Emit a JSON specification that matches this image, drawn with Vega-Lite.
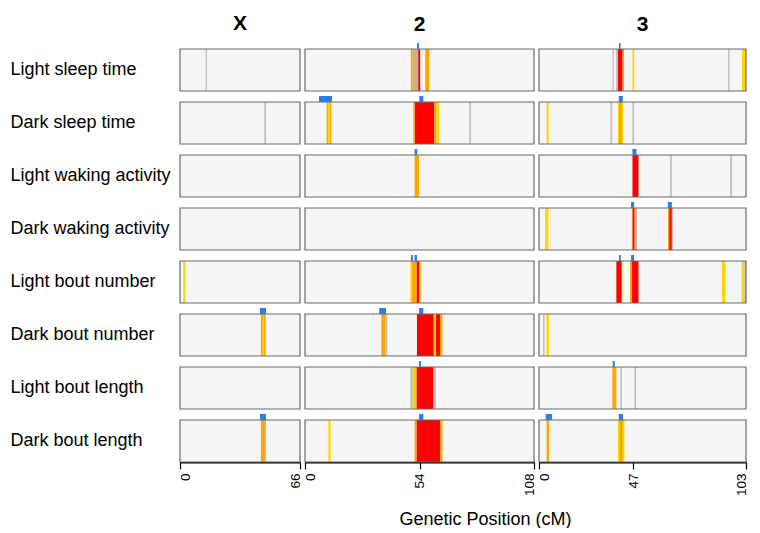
{
  "$schema": "https://vega.github.io/schema/vega-lite/v6.json",
  "padding": {"left": 10, "top": 13, "right": 0, "bottom": 0},
  "bounds": "flush",
  "spacing": 5,
  "config": {
    "view": {"stroke": null},
    "font": "Liberation Sans",
    "axisX": {"labelAngle": -90, "labelFontSize": 13.5, "labelColor": "black", "domainColor": "black", "domainWidth": 1.8, "tickColor": "black", "tickWidth": 1.2, "tickSize": 7, "ticks": true, "labelPadding": 4, "grid": false, "labelFlush": false, "labelOverlap": false, "titleFontSize": 18, "titleFontWeight": "normal", "titleColor": "black",
      "labelOffset": {"condition": [{"test": "datum.value == 0", "value": 5}, {"test": "datum.value == 66 || datum.value == 108 || datum.value == 103", "value": -5}], "value": 0}},
    "axisY": {"title": null, "ticks": false, "domain": false, "labelAlign": "left", "labelPadding": 170, "labelFontSize": 18, "labelColor": "black"},
    "title": {"fontSize": 21, "fontWeight": "bold", "anchor": "middle", "offset": 8, "color": "black"}
  },
  "datasets": {
    "traits": [
      {"t": "Light sleep time"}, {"t": "Dark sleep time"}, {"t": "Light waking activity"}, {"t": "Dark waking activity"},
      {"t": "Light bout number"}, {"t": "Dark bout number"}, {"t": "Light bout length"}, {"t": "Dark bout length"}
    ],
    "bands": [
      {"t": "Light sleep time", "c": "X", "s": 14.1, "e": 14.8, "k": "grey"},
      {"t": "Light sleep time", "c": "2", "s": 49.9, "e": 50.8, "k": "orange"},
      {"t": "Light sleep time", "c": "2", "s": 50.8, "e": 52.9, "k": "tan"},
      {"t": "Light sleep time", "c": "2", "s": 52.9, "e": 53.4, "k": "orange"},
      {"t": "Light sleep time", "c": "2", "s": 53.4, "e": 54.3, "k": "red"},
      {"t": "Light sleep time", "c": "2", "s": 56.7, "e": 58.6, "k": "orange"},
      {"t": "Light sleep time", "c": "3", "s": 36.6, "e": 37.2, "k": "grey"},
      {"t": "Light sleep time", "c": "3", "s": 38.4, "e": 39.3, "k": "grey"},
      {"t": "Light sleep time", "c": "3", "s": 39.3, "e": 41.6, "k": "red"},
      {"t": "Light sleep time", "c": "3", "s": 41.6, "e": 42.3, "k": "orange"},
      {"t": "Light sleep time", "c": "3", "s": 46.5, "e": 47.4, "k": "yellow"},
      {"t": "Light sleep time", "c": "3", "s": 94.1, "e": 94.8, "k": "grey"},
      {"t": "Light sleep time", "c": "3", "s": 101, "e": 103, "k": "yellow"},
      {"t": "Dark sleep time", "c": "X", "s": 46.4, "e": 47.3, "k": "grey"},
      {"t": "Dark sleep time", "c": "2", "s": 10.2, "e": 12.4, "k": "orange"},
      {"t": "Dark sleep time", "c": "2", "s": 10.8, "e": 11.8, "k": "yellow"},
      {"t": "Dark sleep time", "c": "2", "s": 51.1, "e": 51.8, "k": "orange"},
      {"t": "Dark sleep time", "c": "2", "s": 51.8, "e": 61.0, "k": "red"},
      {"t": "Dark sleep time", "c": "2", "s": 61.0, "e": 62.1, "k": "orange"},
      {"t": "Dark sleep time", "c": "2", "s": 62.1, "e": 63.2, "k": "yellow"},
      {"t": "Dark sleep time", "c": "2", "s": 77.5, "e": 78.3, "k": "grey"},
      {"t": "Dark sleep time", "c": "3", "s": 3.8, "e": 4.8, "k": "yellow"},
      {"t": "Dark sleep time", "c": "3", "s": 35.6, "e": 36.4, "k": "grey"},
      {"t": "Dark sleep time", "c": "3", "s": 39.3, "e": 41.8, "k": "yellow"},
      {"t": "Dark sleep time", "c": "3", "s": 39.8, "e": 41.2, "k": "orange"},
      {"t": "Dark sleep time", "c": "3", "s": 46.5, "e": 47.3, "k": "grey"},
      {"t": "Light waking activity", "c": "2", "s": 51.7, "e": 53.8, "k": "orange"},
      {"t": "Light waking activity", "c": "3", "s": 46.5, "e": 49.5, "k": "red"},
      {"t": "Light waking activity", "c": "3", "s": 65.3, "e": 66.1, "k": "grey"},
      {"t": "Light waking activity", "c": "3", "s": 95.1, "e": 96.0, "k": "grey"},
      {"t": "Dark waking activity", "c": "3", "s": 3.0, "e": 4.7, "k": "yellow"},
      {"t": "Dark waking activity", "c": "3", "s": 46.2, "e": 46.6, "k": "orange"},
      {"t": "Dark waking activity", "c": "3", "s": 46.6, "e": 47.6, "k": "red"},
      {"t": "Dark waking activity", "c": "3", "s": 47.6, "e": 48.8, "k": "tan"},
      {"t": "Dark waking activity", "c": "3", "s": 64.2, "e": 64.8, "k": "orange"},
      {"t": "Dark waking activity", "c": "3", "s": 64.8, "e": 66.1, "k": "red"},
      {"t": "Dark waking activity", "c": "3", "s": 66.1, "e": 66.8, "k": "grey"},
      {"t": "Light bout number", "c": "X", "s": 1.8, "e": 3.0, "k": "yellow"},
      {"t": "Light bout number", "c": "2", "s": 49.7, "e": 50.5, "k": "yellow"},
      {"t": "Light bout number", "c": "2", "s": 50.5, "e": 52.7, "k": "orange"},
      {"t": "Light bout number", "c": "2", "s": 52.7, "e": 53.8, "k": "red"},
      {"t": "Light bout number", "c": "2", "s": 53.8, "e": 54.6, "k": "yellow"},
      {"t": "Light bout number", "c": "3", "s": 38.5, "e": 41.2, "k": "red"},
      {"t": "Light bout number", "c": "3", "s": 41.2, "e": 42.2, "k": "pale"},
      {"t": "Light bout number", "c": "3", "s": 42.2, "e": 45.3, "k": "white"},
      {"t": "Light bout number", "c": "3", "s": 45.3, "e": 46.3, "k": "orange"},
      {"t": "Light bout number", "c": "3", "s": 46.3, "e": 49.5, "k": "red"},
      {"t": "Light bout number", "c": "3", "s": 91.0, "e": 92.8, "k": "yellow"},
      {"t": "Light bout number", "c": "3", "s": 100.8, "e": 102.2, "k": "yellow"},
      {"t": "Light bout number", "c": "3", "s": 102.2, "e": 103, "k": "grey"},
      {"t": "Dark bout number", "c": "X", "s": 44.5, "e": 47.1, "k": "orange"},
      {"t": "Dark bout number", "c": "X", "s": 45.4, "e": 46.2, "k": "yellow"},
      {"t": "Dark bout number", "c": "2", "s": 36.0, "e": 37.9, "k": "orange"},
      {"t": "Dark bout number", "c": "2", "s": 37.9, "e": 38.8, "k": "grey"},
      {"t": "Dark bout number", "c": "2", "s": 52.8, "e": 60.7, "k": "red"},
      {"t": "Dark bout number", "c": "2", "s": 60.7, "e": 61.8, "k": "yellow"},
      {"t": "Dark bout number", "c": "2", "s": 61.8, "e": 63.7, "k": "red"},
      {"t": "Dark bout number", "c": "2", "s": 63.7, "e": 64.8, "k": "orange"},
      {"t": "Dark bout number", "c": "3", "s": 2.0, "e": 2.8, "k": "grey"},
      {"t": "Dark bout number", "c": "3", "s": 3.7, "e": 5.0, "k": "yellow"},
      {"t": "Light bout length", "c": "2", "s": 49.7, "e": 50.8, "k": "grey"},
      {"t": "Light bout length", "c": "2", "s": 50.8, "e": 52.0, "k": "yellow"},
      {"t": "Light bout length", "c": "2", "s": 52.0, "e": 52.7, "k": "orange"},
      {"t": "Light bout length", "c": "2", "s": 52.7, "e": 60.5, "k": "red"},
      {"t": "Light bout length", "c": "2", "s": 60.5, "e": 61.7, "k": "grey"},
      {"t": "Light bout length", "c": "3", "s": 36.5, "e": 38.5, "k": "orange"},
      {"t": "Light bout length", "c": "3", "s": 40.5, "e": 41.3, "k": "grey"},
      {"t": "Light bout length", "c": "3", "s": 47.5, "e": 48.3, "k": "grey"},
      {"t": "Dark bout length", "c": "X", "s": 44.5, "e": 47.1, "k": "orange"},
      {"t": "Dark bout length", "c": "X", "s": 46.6, "e": 47.1, "k": "grey"},
      {"t": "Dark bout length", "c": "2", "s": 11.0, "e": 12.1, "k": "yellow"},
      {"t": "Dark bout length", "c": "2", "s": 51.7, "e": 52.7, "k": "orange"},
      {"t": "Dark bout length", "c": "2", "s": 52.7, "e": 63.7, "k": "red"},
      {"t": "Dark bout length", "c": "2", "s": 63.7, "e": 64.8, "k": "orange"},
      {"t": "Dark bout length", "c": "3", "s": 3.8, "e": 5.0, "k": "orange"},
      {"t": "Dark bout length", "c": "3", "s": 39.3, "e": 42.5, "k": "yellow"},
      {"t": "Dark bout length", "c": "3", "s": 40.0, "e": 41.5, "k": "orange"}
    ],
    "qtl": [
      {"t": "Light sleep time", "c": "2", "s": 52.9, "e": 53.8},
      {"t": "Light sleep time", "c": "3", "s": 39.8, "e": 40.6},
      {"t": "Dark sleep time", "c": "2", "s": 6.6, "e": 12.7},
      {"t": "Dark sleep time", "c": "2", "s": 53.9, "e": 55.8},
      {"t": "Dark sleep time", "c": "3", "s": 39.7, "e": 41.7},
      {"t": "Light waking activity", "c": "2", "s": 51.7, "e": 52.9},
      {"t": "Light waking activity", "c": "3", "s": 46.5, "e": 48.5},
      {"t": "Dark waking activity", "c": "3", "s": 45.8, "e": 47.3},
      {"t": "Dark waking activity", "c": "3", "s": 64.1, "e": 66.1},
      {"t": "Light bout number", "c": "2", "s": 50.0, "e": 50.9},
      {"t": "Light bout number", "c": "2", "s": 51.7, "e": 52.8},
      {"t": "Light bout number", "c": "3", "s": 39.8, "e": 40.7},
      {"t": "Light bout number", "c": "3", "s": 45.8, "e": 47.3},
      {"t": "Dark bout number", "c": "X", "s": 44.0, "e": 47.3},
      {"t": "Dark bout number", "c": "2", "s": 35.0, "e": 38.2},
      {"t": "Dark bout number", "c": "2", "s": 53.8, "e": 55.8},
      {"t": "Light bout length", "c": "2", "s": 53.8, "e": 54.7},
      {"t": "Light bout length", "c": "3", "s": 36.7, "e": 37.7},
      {"t": "Dark bout length", "c": "X", "s": 44.0, "e": 47.3},
      {"t": "Dark bout length", "c": "2", "s": 53.8, "e": 55.8},
      {"t": "Dark bout length", "c": "3", "s": 3.3, "e": 6.5},
      {"t": "Dark bout length", "c": "3", "s": 39.7, "e": 41.8}
    ]
  },
  "hconcat": [
    {
      "width": 120,
      "height": 413,
      "title": {"text": "X", "dy": -6},
      "encoding": {
        "y": {"field": "t", "type": "nominal",
          "scale": {"domain": ["Light sleep time", "Dark sleep time", "Light waking activity", "Dark waking activity", "Light bout number", "Dark bout number", "Light bout length", "Dark bout length"], "paddingInner": 0.2075, "paddingOuter": 0},
          "axis": {"title": null}}
      },
      "layer": [
        {"data": {"name": "traits"}, "mark": {"type": "rect", "fill": "#f5f5f5", "strokeWidth": 0},
         "encoding": {"x": {"datum": 0, "type": "quantitative", "scale": {"domain": [0, 66], "nice": false, "zero": false}, "axis": {"title": null, "values": [0, 66]}},
           "x2": {"datum": 66}}},
        {"data": {"name": "bands"}, "transform": [{"filter": "datum.c === 'X'"}], "mark": {"type": "rect"},
         "encoding": {"x": {"field": "s", "type": "quantitative", "axis": {"title": null, "values": [0, 66]}}, "x2": {"field": "e"},
           "color": {"field": "k", "type": "nominal", "legend": null,
             "scale": {"domain": ["grey", "yellow", "orange", "red", "tan", "pale", "white"], "range": ["#bdbdbd", "#ffd700", "#ffa500", "#ff0000", "#c9b28e", "#fff3b0", "#ffffff"]}}}},
        {"data": {"name": "traits"}, "mark": {"type": "rect", "filled": false, "stroke": "#6a6a6a", "strokeWidth": 1.2},
         "encoding": {"x": {"datum": 0, "type": "quantitative", "axis": {"title": null, "values": [0, 66]}}, "x2": {"datum": 66}}},
        {"data": {"name": "qtl"}, "transform": [{"filter": "datum.c === 'X'"}], "mark": {"type": "rect", "height": 6, "yOffset": -24, "color": "#2f7bea"},
         "encoding": {"x": {"field": "s", "type": "quantitative", "axis": {"title": null, "values": [0, 66]}}, "x2": {"field": "e"}}}
      ]
    },
    {
      "width": 229,
      "height": 413,
      "title": {"text": "2"},
      "encoding": {
        "y": {"field": "t", "type": "nominal",
          "scale": {"domain": ["Light sleep time", "Dark sleep time", "Light waking activity", "Dark waking activity", "Light bout number", "Dark bout number", "Light bout length", "Dark bout length"], "paddingInner": 0.2075, "paddingOuter": 0},
          "axis": null}
      },
      "layer": [
        {"data": {"name": "traits"}, "mark": {"type": "rect", "fill": "#f5f5f5", "strokeWidth": 0},
         "encoding": {"x": {"datum": 0, "type": "quantitative", "scale": {"domain": [0, 108], "nice": false, "zero": false},
           "axis": {"title": "Genetic Position (cM)", "titleX": 180, "titleY": 62, "titleBaseline": "alphabetic", "values": [0, 54, 108]}},
           "x2": {"datum": 108}}},
        {"data": {"name": "bands"}, "transform": [{"filter": "datum.c === '2'"}], "mark": {"type": "rect"},
         "encoding": {"x": {"field": "s", "type": "quantitative", "axis": {"title": "Genetic Position (cM)", "titleX": 180, "titleY": 62, "titleBaseline": "alphabetic", "values": [0, 54, 108]}}, "x2": {"field": "e"},
           "color": {"field": "k", "type": "nominal", "legend": null,
             "scale": {"domain": ["grey", "yellow", "orange", "red", "tan", "pale", "white"], "range": ["#bdbdbd", "#ffd700", "#ffa500", "#ff0000", "#c9b28e", "#fff3b0", "#ffffff"]}}}},
        {"data": {"name": "traits"}, "mark": {"type": "rect", "filled": false, "stroke": "#6a6a6a", "strokeWidth": 1.2},
         "encoding": {"x": {"datum": 0, "type": "quantitative", "axis": {"title": "Genetic Position (cM)", "titleX": 180, "titleY": 62, "titleBaseline": "alphabetic", "values": [0, 54, 108]}}, "x2": {"datum": 108}}},
        {"data": {"name": "qtl"}, "transform": [{"filter": "datum.c === '2'"}], "mark": {"type": "rect", "height": 6, "yOffset": -24, "color": "#2f7bea"},
         "encoding": {"x": {"field": "s", "type": "quantitative", "axis": {"title": "Genetic Position (cM)", "titleX": 180, "titleY": 62, "titleBaseline": "alphabetic", "values": [0, 54, 108]}}, "x2": {"field": "e"}}}
      ]
    },
    {
      "width": 207,
      "height": 413,
      "title": {"text": "3"},
      "encoding": {
        "y": {"field": "t", "type": "nominal",
          "scale": {"domain": ["Light sleep time", "Dark sleep time", "Light waking activity", "Dark waking activity", "Light bout number", "Dark bout number", "Light bout length", "Dark bout length"], "paddingInner": 0.2075, "paddingOuter": 0},
          "axis": null}
      },
      "layer": [
        {"data": {"name": "traits"}, "mark": {"type": "rect", "fill": "#f5f5f5", "strokeWidth": 0},
         "encoding": {"x": {"datum": 0, "type": "quantitative", "scale": {"domain": [0, 103], "nice": false, "zero": false}, "axis": {"title": null, "values": [0, 47, 103]}},
           "x2": {"datum": 103}}},
        {"data": {"name": "bands"}, "transform": [{"filter": "datum.c === '3'"}], "mark": {"type": "rect"},
         "encoding": {"x": {"field": "s", "type": "quantitative", "axis": {"title": null, "values": [0, 47, 103]}}, "x2": {"field": "e"},
           "color": {"field": "k", "type": "nominal", "legend": null,
             "scale": {"domain": ["grey", "yellow", "orange", "red", "tan", "pale", "white"], "range": ["#bdbdbd", "#ffd700", "#ffa500", "#ff0000", "#c9b28e", "#fff3b0", "#ffffff"]}}}},
        {"data": {"name": "traits"}, "mark": {"type": "rect", "filled": false, "stroke": "#6a6a6a", "strokeWidth": 1.2},
         "encoding": {"x": {"datum": 0, "type": "quantitative", "axis": {"title": null, "values": [0, 47, 103]}}, "x2": {"datum": 103}}},
        {"data": {"name": "qtl"}, "transform": [{"filter": "datum.c === '3'"}], "mark": {"type": "rect", "height": 6, "yOffset": -24, "color": "#2f7bea"},
         "encoding": {"x": {"field": "s", "type": "quantitative", "axis": {"title": null, "values": [0, 47, 103]}}, "x2": {"field": "e"}}}
      ]
    }
  ]
}
